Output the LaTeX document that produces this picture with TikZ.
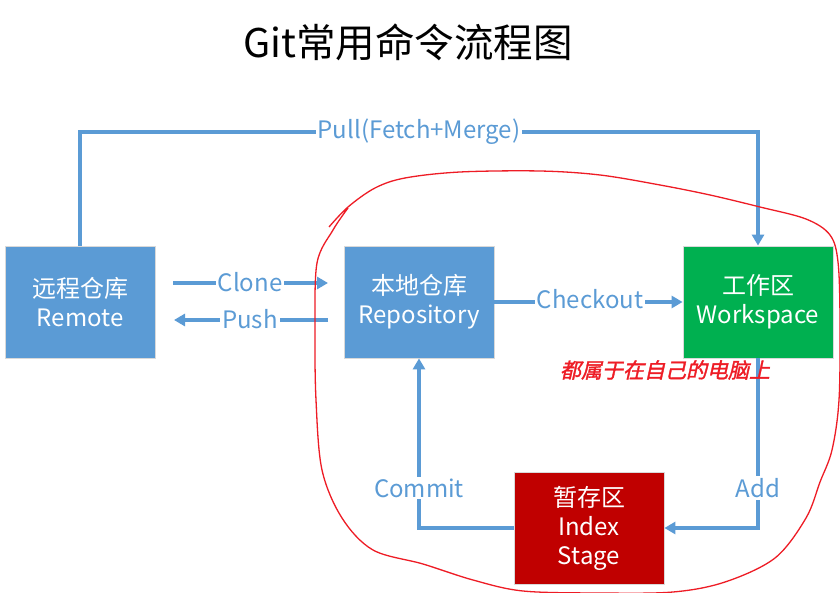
\documentclass[tikz,border=0pt]{standalone}
\usepackage{fontspec}
\setmainfont{Noto Sans CJK SC}
\newfontfamily\slantfont[FakeSlant=0.22,FakeBold=1.5]{Noto Sans CJK SC}
\usetikzlibrary{arrows.meta}
\definecolor{boxblue}{HTML}{5B9BD5}
\definecolor{boxgreen}{HTML}{00B050}
\definecolor{boxred}{HTML}{C00000}
\definecolor{lineblue}{HTML}{5B9BD5}
\definecolor{inkred}{HTML}{EE1C25}
\tikzset{
  stagebox/.style={draw=black!15, line width=0.8pt, minimum width=150pt, minimum height=112pt,
     text=white, align=center, inner sep=0pt, font=\fontsize{24}{29}\selectfont},
  conn/.style={draw=lineblue, line width=3.4pt},
  arr/.style={conn, -{Triangle[length=11pt,width=12pt]}},
  lbl/.style={fill=white, text=lineblue, inner sep=2pt, font=\fontsize{24}{28}\selectfont},
}
\begin{document}
\begin{tikzpicture}[x=1pt,y=-1pt]
\useasboundingbox[fill=white] (0,0) rectangle (840,593);
\node (title) at (408,42) {\fontsize{39.5}{46}\selectfont Git常用命令流程图};
\node[stagebox, fill=boxblue] (remote) at (80,302) {远程仓库\\Remote};
\node[stagebox, fill=boxblue] (repo) at (419,302) {本地仓库\\Repository};
\node[stagebox, fill=boxgreen] (ws) at (758,302) {工作区\\Workspace};
\node[stagebox, fill=boxred] (stage) at (589,528) {暂存区\\Index\\Stage};
% pull
\coordinate (pullL) at (80,132);
\draw[arr] (remote.north) -- (pullL) -| (ws.north);
\node[lbl] (pull) at (419,132) {Pull(Fetch+Merge)};
% clone / push
\coordinate (cloneA) at (173,283);
\coordinate (cloneB) at (328,283);
\coordinate (pushA) at (328,320);
\coordinate (pushB) at (174,320);
\draw[arr] (cloneA) -- (cloneB);
\node[lbl] (clone) at (250,282) {Clone};
\draw[arr] (pushA) -- (pushB);
\node[lbl] (push) at (250,319) {Push};
% checkout
\draw[arr] (repo.east) -- (ws.west);
\node[lbl] (checkout) at (590,299) {Checkout};
% add / commit
\draw[arr] (ws.south) |- (stage.east);
\node[lbl] (add) at (758,488) {Add};
\draw[arr] (stage.west) -| (repo.south);
\node[lbl] (commit) at (419,488) {Commit};
% note
\node[text=inkred] (note) at (665,370) {\slantfont\fontsize{21}{23}\selectfont 都属于在自己的电脑上};
% red freehand outline
\draw[inkred, line width=1.3pt] plot[smooth, tension=0.55] coordinates {
 (329,227) (348,207) (375,188) (405,178) (460,172) (540,171) (600,175) (660,185)
 (710,195) (760,207) (806,219) (830,235) (838,262) (840,320) (839,400) (832,450)
 (820,482) (806,518) (775,558) (725,582) (673,592) (600,593) (523,591) (473,580)
 (423,564) (373,550) (342,518) (322,470) (316,400) (315,330) (317,263) (333,230) (348,208)};
\end{tikzpicture}
\end{document}
